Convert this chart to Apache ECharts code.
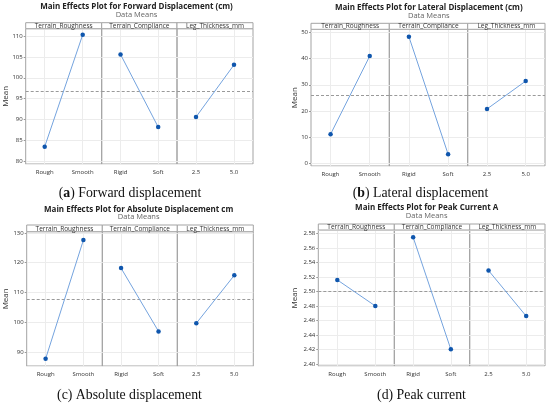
<!DOCTYPE html>
<html><head><meta charset="utf-8">
<script src="https://cdn.jsdelivr.net/npm/echarts@6/dist/echarts.min.js"></script>
<style>html,body{margin:0;padding:0;background:#fff}#c{width:550px;height:406px}</style>
</head><body><div id="c"></div>
<script>
// ---------- data ----------
const factors = ['Terrain_Roughness', 'Terrain_Compliance', 'Leg_Thickness_mm'];
const levels = [['Rough', 'Smooth'], ['Rigid', 'Soft'], ['2.5', '5.0']];
const forwardMeans  = [[83.5, 110.3], [105.6, 88.2], [90.6, 103.1]];
const lateralMeans  = [[11.2, 40.9], [48.3, 3.6], [20.8, 31.4]];
const absoluteMeans = [[87.8, 127.6], [118.2, 97.0], [99.7, 115.8]];
const peakMeans     = [[2.516, 2.480], [2.575, 2.420], [2.529, 2.466]];
const grandMeans = [96.8, 26.1, 107.8, 2.498];
const titles = ['Main Effects Plot for Forward Displacement (cm)', 'Main Effects Plot for Lateral Displacement (cm)',
                'Main Effects Plot for Absolute Displacement cm', 'Main Effects Plot for Peak Current A'];
const subtitle = 'Data Means';
const captionLetters = ['a', 'b', 'c', 'd'];
const captionTexts = ['Forward displacement', 'Lateral displacement', 'Absolute displacement', 'Peak current'];
const yRanges = [[79.35, 111.75], [-0.9, 51.1], [85.4, 130.4], [2.397, 2.585]];
const ySplits = [6, 5, 4, 9];
const yDecimals = [0, 0, 0, 2];
const allMeans = [forwardMeans, lateralMeans, absoluteMeans, peakMeans];

// ---------- layout ----------
const layouts = [
  {left: 25.7, div: [101.7, 177], right: 253, top: 22.7, strip: 28.7, bottom: 164, tx: 136.5, ty: 6.5, sy: 14.5, mx: 6, cx: 130, cy: 193, boldLetter: true},
  {left: 311, div: [389.3, 467.7], right: 545, top: 23.3, strip: 29.3, bottom: 166, tx: 428.8, ty: 8, sy: 15.5, mx: 295, cx: 420.5, cy: 193, boldLetter: true},
  {left: 26.7, div: [102.3, 177.3], right: 253.3, top: 225, strip: 231.7, bottom: 366, tx: 138.7, ty: 209.3, sy: 216.9, mx: 6, cx: 129.5, cy: 395, boldLetter: false},
  {left: 318.3, div: [394.3, 469.7], right: 545, top: 224, strip: 230, bottom: 366, tx: 426.7, ty: 208, sy: 215.8, mx: 295, cx: 421.5, cy: 395, boldLetter: false}
];
const SANS = '"Open Sans", "Noto Sans", sans-serif';
const SERIF = '"Liberation Serif", "DejaVu Serif", serif';
const FRAME = '#a3a3a3';

const chart = echarts.init(document.getElementById('c'));
const grids = [], xAxes = [], yAxes = [], series = [], graphics = [];

allMeans.forEach((means, pi) => {
  const L = layouts[pi];
  const edges = [L.left, ...L.div, L.right];
  for (let f = 0; f < 3; f++) {
    const gi = grids.length;
    grids.push({left: edges[f], top: L.strip, width: edges[f + 1] - edges[f], height: L.bottom - L.strip,
      show: true, borderColor: FRAME, borderWidth: 1, backgroundColor: 'transparent'});
    xAxes.push({type: 'category', gridIndex: gi, data: levels[f], boundaryGap: true,
      axisLine: {show: false}, axisTick: {show: false}, splitLine: {show: false},
      axisLabel: {fontSize: 6, color: '#333', margin: 5, fontFamily: SANS}});
    const dec = yDecimals[pi];
    yAxes.push({type: 'value', gridIndex: gi, min: yRanges[pi][0], max: yRanges[pi][1], splitNumber: ySplits[pi],
      axisLine: {show: false},
      axisTick: {show: f === 0, length: 2, lineStyle: {color: '#999'}},
      axisLabel: {show: f === 0, fontSize: 6, color: '#333', margin: 3, fontFamily: SANS,
        showMinLabel: false, showMaxLabel: false, formatter: v => v.toFixed(dec)},
      splitLine: {show: true, lineStyle: {color: '#ececec', width: 1}}});
    series.push({type: 'line', xAxisIndex: gi, yAxisIndex: gi, data: means[f],
      symbol: 'circle', symbolSize: 4.5, z: 5,
      lineStyle: {color: '#74a3de', width: 1}, itemStyle: {color: '#0f56ad'},
      markLine: {silent: true, symbol: 'none', label: {show: false}, animation: false,
        data: [
          {yAxis: grandMeans[pi], lineStyle: {color: '#9a9a9a', type: [3, 2], width: 1}},
          {xAxis: 0, lineStyle: {color: '#ececec', type: 'solid', width: 1}},
          {xAxis: 1, lineStyle: {color: '#ececec', type: 'solid', width: 1}}
        ]}});
    // strip header
    graphics.push({type: 'rect', z: 10, shape: {x: edges[f], y: L.top, width: edges[f + 1] - edges[f], height: L.strip - L.top},
      style: {fill: '#fff', stroke: FRAME, lineWidth: 1}});
    graphics.push({type: 'text', z: 11, x: (edges[f] + edges[f + 1]) / 2, y: (L.top + L.strip) / 2 + 0.3,
      style: {text: factors[f], font: '6.5px ' + SANS, fill: '#333', textAlign: 'center', textVerticalAlign: 'middle'}});
  }
  graphics.push({type: 'text', x: L.tx, y: L.ty, style: {text: titles[pi], font: 'bold 8px ' + SANS, fill: '#222',
    textAlign: 'center', textVerticalAlign: 'middle'}});
  graphics.push({type: 'text', x: L.tx, y: L.sy, style: {text: subtitle, font: '7.5px ' + SANS, fill: '#666',
    textAlign: 'center', textVerticalAlign: 'middle'}});
  graphics.push({type: 'text', x: L.mx, y: (L.strip + L.bottom) / 2, rotation: Math.PI / 2,
    style: {text: 'Mean', font: '8px ' + SANS, fill: '#333', textAlign: 'center', textVerticalAlign: 'middle'}});
  graphics.push({type: 'text', x: L.cx, y: L.cy, style: {
    text: '(' + (L.boldLetter ? '{b|' + captionLetters[pi] + '}' : captionLetters[pi]) + ') ' + captionTexts[pi],
    font: '13.8px ' + SERIF, fill: '#111', textAlign: 'center', textVerticalAlign: 'middle',
    rich: {b: {fontWeight: 'bold', fontSize: 13.8, fontFamily: SERIF, fill: '#111'}}}});
});

chart.setOption({
  animation: false,
  grid: grids, xAxis: xAxes, yAxis: yAxes, series: series,
  graphic: {elements: graphics}
});
</script></body></html>
